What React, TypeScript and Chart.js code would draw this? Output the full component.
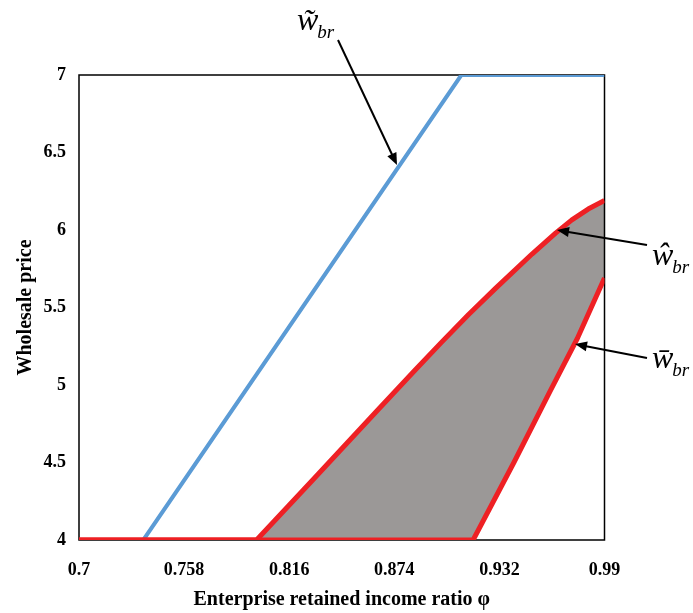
import React, { useEffect, useRef } from "react";
import { Chart, registerables } from "chart.js";

Chart.register(...registerables);

// Axis ticks
const xTicks = [0.7, 0.758, 0.816, 0.874, 0.932, 0.99];
const yMin = 4;
const yMax = 7;
const yStep = 0.5;

// w~_br (blue)
const tildeX = [0.7, 0.7355, 0.911, 0.99];
const tildeY = [4, 4, 7, 7];

// w^_br (red, upper)
const hatX = [0.7, 0.798, 0.83, 0.865, 0.885, 0.9, 0.915, 0.93, 0.95, 0.963, 0.972, 0.981, 0.99];
const hatY = [4, 4, 4.4, 4.84, 5.09, 5.275, 5.455, 5.625, 5.845, 5.98, 6.065, 6.135, 6.19];

// w-_br (red, lower)
const barX = [0.7, 0.9175, 0.94, 0.96, 0.975, 0.99];
const barY = [4, 4, 4.5, 4.96, 5.3, 5.69];

const xTitle = "Enterprise retained income ratio φ";
const yTitle = "Wholesale price";

const toPts = (xs: number[], ys: number[]) => xs.map((x, i) => ({ x, y: ys[i] }));

const BLUE = "#5B9BD5";
const RED = "#EE2024";
const GRAY = "#9B9897";
const FONT = "'Liberation Serif', 'Times New Roman', serif";

function arrow(ctx: CanvasRenderingContext2D, x1: number, y1: number, x2: number, y2: number) {
  const ang = Math.atan2(y2 - y1, x2 - x1);
  const hl = 12;
  const hw = 5;
  const bx = x2 - hl * Math.cos(ang);
  const by = y2 - hl * Math.sin(ang);
  ctx.save();
  ctx.strokeStyle = "#000";
  ctx.fillStyle = "#000";
  ctx.lineWidth = 2;
  ctx.beginPath();
  ctx.moveTo(x1, y1);
  ctx.lineTo(bx + 2 * Math.cos(ang), by + 2 * Math.sin(ang));
  ctx.stroke();
  ctx.beginPath();
  ctx.moveTo(x2, y2);
  ctx.lineTo(bx + hw * Math.sin(ang), by - hw * Math.cos(ang));
  ctx.lineTo(bx - hw * Math.sin(ang), by + hw * Math.cos(ang));
  ctx.closePath();
  ctx.fill();
  ctx.restore();
}

function label(ctx: CanvasRenderingContext2D, main: string, x: number, y: number) {
  ctx.save();
  ctx.fillStyle = "#000";
  ctx.textBaseline = "alphabetic";
  ctx.textAlign = "left";
  ctx.font = `italic 32px ${FONT}`;
  ctx.fillText(main, x, y);
  const w = ctx.measureText("w").width;
  ctx.font = `italic 19px ${FONT}`;
  ctx.fillText("br", x + w - 1, y + 8);
  ctx.restore();
}

export default function App() {
  const ref = useRef<HTMLCanvasElement | null>(null);

  useEffect(() => {
    if (!ref.current) return;

    const frame = {
      id: "frame",
      beforeDatasetsDraw(chart: any) {
        const { ctx, chartArea: a } = chart;
        ctx.save();
        ctx.strokeStyle = "#000";
        ctx.lineWidth = 1.5;
        ctx.strokeRect(a.left, a.top, a.right - a.left, a.bottom - a.top);
        ctx.restore();
      },
      afterDraw(chart: any) {
        const ctx = chart.ctx as CanvasRenderingContext2D;
        arrow(ctx, 338, 40, 397, 165);
        arrow(ctx, 647, 245, 557, 230);
        arrow(ctx, 647, 358, 575, 344);
        label(ctx, "w\u0303", 297, 30);
        label(ctx, "w\u0302", 652, 265);
        label(ctx, "w\u0304", 652, 368);
      },
    };

    const chart = new Chart(ref.current, {
      type: "line",
      data: {
        datasets: [
          {
            label: "w~br",
            data: toPts(tildeX, tildeY),
            borderColor: BLUE,
            borderWidth: 4,
            pointRadius: 0,
            tension: 0,
            fill: false,
            order: 3,
          },
          {
            label: "w^br",
            data: toPts(hatX, hatY),
            borderColor: RED,
            borderWidth: 5,
            borderJoinStyle: "round",
            pointRadius: 0,
            tension: 0,
            fill: 2,
            backgroundColor: GRAY,
            order: 1,
          },
          {
            label: "w-br",
            data: toPts(barX, barY),
            borderColor: RED,
            borderWidth: 5,
            borderJoinStyle: "round",
            pointRadius: 0,
            tension: 0,
            fill: false,
            order: 2,
          },
        ] as any,
      },
      options: {
        responsive: false,
        animation: false,
        layout: { padding: { top: 75, right: 88.5, left: 0, bottom: 0 } },
        plugins: {
          legend: { display: false },
          tooltip: { enabled: false },
          filler: { drawTime: "beforeDatasetsDraw" },
        } as any,
        scales: {
          x: {
            type: "linear",
            min: 0.7,
            max: 0.99,
            afterBuildTicks: (s: any) => {
              s.ticks = xTicks.map((v) => ({ value: v }));
            },
            afterFit: (s: any) => {
              s.height = 73;
            },
            grid: { display: false, drawTicks: false },
            border: { display: false },
            ticks: {
              color: "#000",
              padding: 20,
              maxRotation: 0,
              autoSkip: false,
              font: { family: FONT, size: 18, weight: "bold" },
              callback: (v: any) => String(v),
            },
            title: {
              display: true,
              text: xTitle,
              color: "#000",
              padding: { top: 0, bottom: 1 },
              font: { family: FONT, size: 20, weight: "bold" },
            },
          },
          y: {
            type: "linear",
            min: yMin,
            max: yMax,
            afterFit: (s: any) => {
              s.width = 79;
            },
            grid: { display: false, drawTicks: false },
            border: { display: false },
            ticks: {
              stepSize: yStep,
              color: "#000",
              padding: 13,
              font: { family: FONT, size: 18, weight: "bold" },
              callback: (v: any) => String(v),
            },
            title: {
              display: true,
              text: yTitle,
              color: "#000",
              padding: { top: 14, bottom: 0 },
              font: { family: FONT, size: 20, weight: "bold" },
            },
          },
        },
      } as any,
      plugins: [frame],
    });

    return () => chart.destroy();
  }, []);

  return (
    <div style={{ width: 693, height: 613, overflow: "hidden" }}>
      <style>{"html,body{margin:0;padding:0;overflow:hidden;background:#fff}"}</style>
      <canvas ref={ref} width={693} height={613} style={{ display: "block" }} />
    </div>
  );
}
